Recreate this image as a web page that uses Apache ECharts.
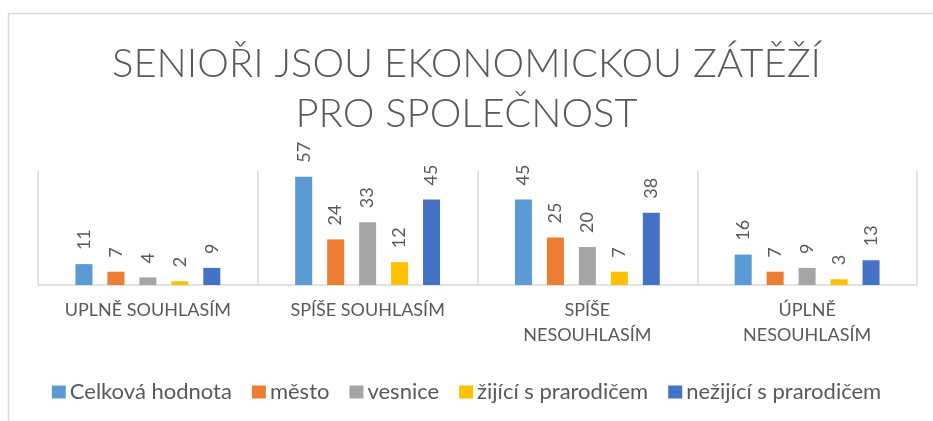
<!DOCTYPE html>
<html>
<head>
<meta charset="utf-8">
<script src="https://cdn.jsdelivr.net/npm/echarts@6/dist/echarts.min.js"></script>
<style>
  html, body { margin: 0; padding: 0; background: #fff; }
  #chart { width: 933px; height: 421px; }
</style>
</head>
<body>
<div id="chart"></div>
<script>
var categories = ['UPLNĚ SOUHLASÍM', 'SPÍŠE SOUHLASÍM', 'SPÍŠE NESOUHLASÍM', 'ÚPLNĚ NESOUHLASÍM'];
var seriesNames = ['Celková hodnota', 'město', 'vesnice', 'žijící s prarodičem', 'nežijící s prarodičem'];
var celkova = [11, 57, 45, 16];
var mesto = [7, 24, 25, 7];
var vesnice = [4, 33, 20, 9];
var zijici = [2, 12, 7, 3];
var nezijici = [9, 45, 38, 13];
var colors = ['#5B9BD5', '#ED7D31', '#A5A5A5', '#FFC000', '#4472C4'];

var font = 'Lato, "Open Sans", sans-serif';
var gray = '#595959';

var myChart = echarts.init(document.getElementById('chart'));

function makeSeries(name, data) {
    return {
        type: 'bar',
        name: name,
        data: data,
        barWidth: 17,
        barGap: '88%',
        animation: false,
        label: {
            show: true,
            position: 'top',
            rotate: 90,
            align: 'left',
            verticalAlign: 'middle',
            distance: 14,
            color: gray,
            fontSize: 18,
            fontFamily: font
        }
    };
}

var option = {
    color: colors,
    title: {
        text: 'SENIOŘI JSOU EKONOMICKOU ZÁTĚŽÍ\nPRO SPOLEČNOST',
        left: 'center',
        top: 34,
        textStyle: {
            color: gray,
            fontSize: 40,
            fontWeight: 300,
            fontFamily: font,
            lineHeight: 50
        }
    },
    legend: {
        top: 376,
        left: 'center',
        itemWidth: 14,
        itemHeight: 13,
        itemGap: 20,
        icon: 'rect',
        textStyle: { color: gray, fontSize: 22, fontFamily: font, padding: [0, 0, 0, -1] }
    },
    grid: { left: 38, right: 16, top: 171, bottom: 136 },
    xAxis: {
        type: 'category',
        data: categories,
        axisLine: { lineStyle: { color: '#D9D9D9', width: 1.5 } },
        axisTick: { show: false },
        splitLine: { show: true, lineStyle: { color: '#D9D9D9', width: 1.5 } },
        axisLabel: {
            color: gray,
            fontSize: 18,
            fontFamily: font,
            lineHeight: 25,
            margin: 13,
            interval: 0,
            formatter: function (v) {
                return v.length > 15 ? v.replace(' ', '\n') : v;
            }
        }
    },
    yAxis: {
        type: 'value',
        min: 0,
        max: 60,
        show: false
    },
    graphic: [{
        type: 'rect',
        shape: { x: 8.5, y: 13.5, width: 1000, height: 1000 },
        style: { fill: 'none', stroke: '#D9D9D9', lineWidth: 1.5 },
        silent: true
    }],
    series: [
        makeSeries(seriesNames[0], celkova),
        makeSeries(seriesNames[1], mesto),
        makeSeries(seriesNames[2], vesnice),
        makeSeries(seriesNames[3], zijici),
        makeSeries(seriesNames[4], nezijici)
    ]
};

myChart.setOption(option);
</script>
</body>
</html>
